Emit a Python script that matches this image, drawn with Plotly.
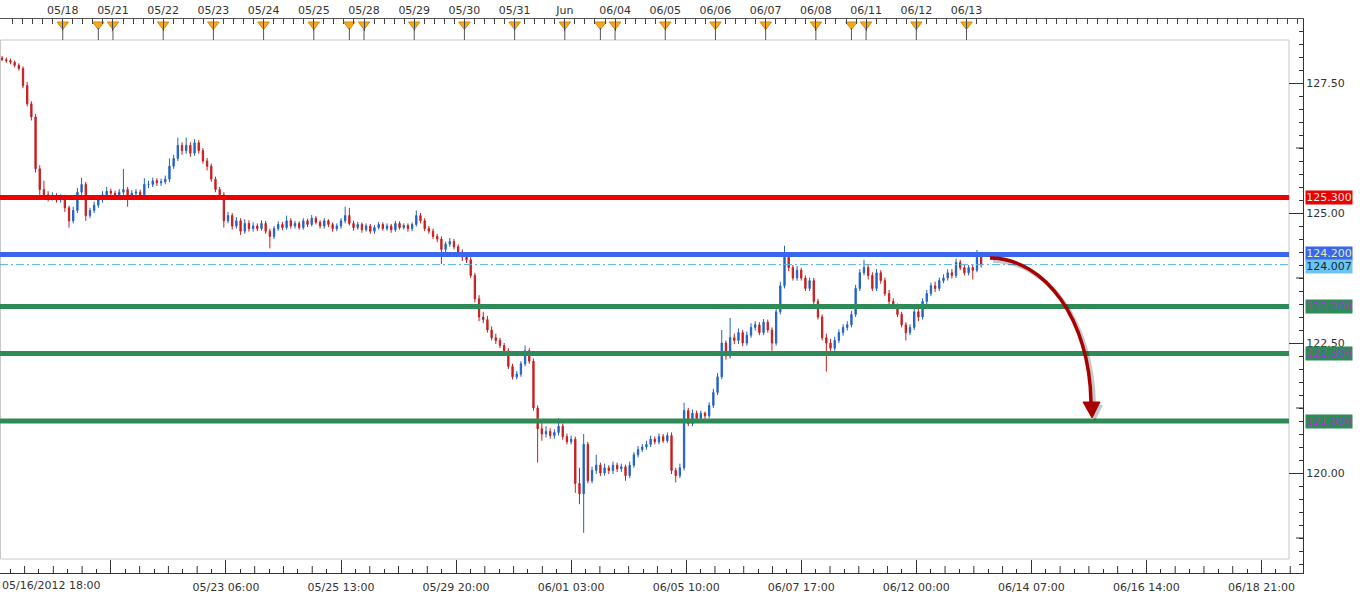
import plotly.graph_objects as go

# ---------------- data (2-hour bars, x = trading hours since 05/16/2012 18:00) ----------------
start_label = "05/16/2012 18:00"
bar_hours = 2

opens = [
    127.98, 127.95, 127.93, 127.90, 127.84, 127.78, 127.45, 127.10, 126.85, 125.85,
    125.45, 125.35, 125.28, 125.33, 125.25, 125.30, 125.10, 124.85, 125.05, 125.40,
    125.55, 124.95, 125.05, 125.15, 125.25, 125.35, 125.42, 125.38, 125.35, 125.40,
    125.45, 125.30, 125.38, 125.40, 125.35, 125.55, 125.55, 125.62, 125.58, 125.60,
    125.65, 125.90, 126.05, 126.30, 126.20, 126.30, 126.15, 126.35, 126.20, 126.00,
    125.90, 125.65, 125.45, 125.35, 124.85, 124.95, 124.75, 124.85, 124.65, 124.80,
    124.70, 124.75, 124.70, 124.80, 124.65, 124.55, 124.70, 124.78, 124.72, 124.85,
    124.75, 124.80, 124.72, 124.85, 124.78, 124.90, 124.82, 124.75, 124.85, 124.78,
    124.70, 124.75, 124.85, 124.95, 124.80, 124.72, 124.78, 124.68, 124.75, 124.65,
    124.72, 124.78, 124.70, 124.75, 124.68, 124.80, 124.72, 124.76, 124.70, 124.78,
    124.95, 124.85, 124.70, 124.65, 124.55, 124.50, 124.30, 124.40, 124.45, 124.35,
    124.25, 124.15, 124.10, 123.80, 123.35, 123.00, 122.95, 122.75, 122.60, 122.55,
    122.45, 122.35, 122.05, 121.85, 121.90, 122.10, 122.35, 122.15, 121.25, 120.85,
    120.75, 120.80, 120.72, 120.78, 120.90, 120.70, 120.60, 120.65, 119.80, 119.60,
    120.55, 119.85, 120.05, 120.15, 120.00, 120.10, 120.05, 120.15, 120.08, 120.12,
    119.95, 120.15, 120.35, 120.45, 120.50, 120.55, 120.65, 120.60, 120.70, 120.62,
    120.72, 120.05, 119.95, 120.10, 121.20, 120.95, 121.15, 121.05, 121.15, 121.10,
    121.30, 121.55, 121.85, 122.50, 122.25, 122.60, 122.55, 122.70, 122.50, 122.65,
    122.80, 122.85, 122.70, 122.90, 122.75, 122.50, 123.10, 123.60, 124.15, 123.95,
    123.75, 123.90, 123.75, 123.55, 123.70, 123.30, 123.00, 122.60, 122.50, 122.40,
    122.55, 122.70, 122.80, 122.85, 123.05, 123.55, 123.85, 123.95, 123.80, 123.55,
    123.85, 123.70, 123.45, 123.30, 123.20, 123.05, 122.85, 122.70, 122.80, 123.10,
    123.00, 123.30, 123.45, 123.60, 123.55, 123.70, 123.75, 123.85, 123.80, 124.05,
    123.95, 123.85, 123.95, 123.90, 124.15,
]
highs = [
    128.02, 127.99, 127.97, 127.93, 127.88, 127.82, 127.52, 127.15, 126.90, 125.92,
    125.62, 125.42, 125.40, 125.38, 125.36, 125.35, 125.14, 125.12, 125.48, 125.68,
    125.60, 125.10, 125.22, 125.30, 125.42, 125.50, 125.47, 125.43, 125.46, 125.85,
    125.50, 125.44, 125.46, 125.45, 125.67, 125.62, 125.68, 125.67, 125.66, 125.72,
    126.05, 126.12, 126.45, 126.36, 126.45, 126.36, 126.42, 126.40, 126.25, 126.06,
    125.95, 125.70, 125.50, 125.40, 125.02, 125.00, 124.92, 124.90, 124.88, 124.86,
    124.82, 124.80, 124.86, 124.85, 124.70, 124.75, 124.84, 124.83, 124.95, 124.90,
    124.85, 124.84, 124.90, 124.89, 124.96, 124.94, 124.86, 124.90, 124.88, 124.82,
    124.80, 124.90, 125.12, 125.10, 124.85, 124.83, 124.82, 124.80, 124.79, 124.77,
    124.83, 124.82, 124.80, 124.79, 124.85, 124.84, 124.80, 124.80, 124.82, 125.05,
    125.00, 124.90, 124.75, 124.70, 124.60, 124.55, 124.45, 124.52, 124.50, 124.40,
    124.30, 124.22, 124.15, 123.85, 123.42, 123.10, 123.02, 122.82, 122.68, 122.60,
    122.50, 122.40, 122.10, 121.96, 122.15, 122.45, 122.40, 122.20, 121.30, 121.00,
    120.90, 120.86, 120.84, 121.05, 120.95, 120.76, 120.72, 120.70, 120.10, 120.75,
    120.60, 120.12, 120.35, 120.20, 120.18, 120.15, 120.22, 120.20, 120.18, 120.16,
    120.22, 120.40, 120.52, 120.56, 120.62, 120.72, 120.70, 120.76, 120.75, 120.78,
    120.78, 120.10, 120.18, 121.35, 121.25, 121.22, 121.20, 121.20, 121.18, 121.36,
    121.62, 121.92, 122.75, 122.55, 122.98, 122.68, 122.78, 122.75, 122.72, 122.88,
    122.92, 122.90, 122.96, 122.95, 122.80, 123.15, 123.68, 124.37, 124.22, 124.00,
    123.98, 123.95, 123.80, 123.76, 123.75, 123.35, 123.05, 122.68, 122.58, 122.62,
    122.76, 122.86, 122.92, 123.12, 123.62, 123.92, 124.10, 124.02, 123.86, 123.92,
    123.90, 123.76, 123.52, 123.36, 123.26, 123.10, 122.90, 122.86, 123.16, 123.18,
    123.36, 123.52, 123.66, 123.68, 123.76, 123.82, 123.92, 123.92, 124.12, 124.10,
    124.00, 124.00, 124.02, 124.29, 124.18,
]
lows = [
    127.92, 127.89, 127.86, 127.80, 127.74, 127.40, 127.05, 126.78, 125.78, 125.35,
    125.28, 125.22, 125.24, 125.20, 125.20, 125.02, 124.72, 124.80, 125.00, 125.35,
    124.85, 124.90, 125.00, 125.10, 125.20, 125.30, 125.32, 125.28, 125.30, 125.35,
    125.12, 125.25, 125.32, 125.28, 125.30, 125.48, 125.50, 125.52, 125.52, 125.55,
    125.60, 125.85, 126.00, 126.12, 126.14, 126.08, 126.10, 126.14, 125.95, 125.82,
    125.60, 125.40, 125.28, 124.72, 124.80, 124.68, 124.70, 124.58, 124.60, 124.64,
    124.64, 124.65, 124.66, 124.60, 124.32, 124.50, 124.66, 124.67, 124.68, 124.70,
    124.70, 124.68, 124.68, 124.73, 124.74, 124.78, 124.70, 124.70, 124.73, 124.64,
    124.65, 124.70, 124.80, 124.76, 124.66, 124.68, 124.62, 124.64, 124.60, 124.60,
    124.68, 124.66, 124.66, 124.62, 124.64, 124.68, 124.68, 124.64, 124.65, 124.74,
    124.80, 124.65, 124.60, 124.50, 124.44, 124.02, 124.25, 124.35, 124.30, 124.18,
    124.08, 124.04, 123.75, 123.28, 122.92, 122.88, 122.70, 122.55, 122.48, 122.40,
    122.30, 122.00, 121.80, 121.80, 121.85, 122.05, 122.10, 121.20, 120.20, 120.62,
    120.68, 120.66, 120.66, 120.72, 120.64, 120.55, 120.55, 119.62, 119.40, 118.85,
    119.80, 119.80, 119.98, 119.94, 119.95, 119.98, 119.98, 120.02, 120.02, 119.85,
    119.90, 120.10, 120.30, 120.40, 120.45, 120.50, 120.55, 120.55, 120.58, 120.58,
    119.98, 119.82, 119.90, 120.05, 120.90, 120.90, 121.00, 121.00, 121.04, 121.05,
    121.25, 121.50, 121.80, 122.18, 122.20, 122.48, 122.48, 122.44, 122.45, 122.60,
    122.74, 122.65, 122.65, 122.70, 122.35, 122.45, 123.05, 123.55, 123.88, 123.70,
    123.70, 123.70, 123.50, 123.50, 123.25, 122.95, 122.55, 121.95, 122.35, 122.35,
    122.50, 122.64, 122.74, 122.80, 123.00, 123.50, 123.80, 123.72, 123.50, 123.50,
    123.64, 123.40, 123.25, 123.15, 123.00, 122.80, 122.55, 122.65, 122.75, 122.92,
    122.95, 123.25, 123.40, 123.48, 123.50, 123.65, 123.70, 123.74, 123.75, 123.90,
    123.80, 123.80, 123.72, 123.86, 123.95,
]
closes = [
    127.95, 127.93, 127.90, 127.84, 127.78, 127.45, 127.10, 126.85, 125.85, 125.45,
    125.35, 125.28, 125.33, 125.25, 125.30, 125.10, 124.85, 125.05, 125.40, 125.55,
    124.95, 125.05, 125.15, 125.25, 125.35, 125.42, 125.38, 125.35, 125.40, 125.45,
    125.30, 125.38, 125.40, 125.35, 125.55, 125.55, 125.62, 125.58, 125.60, 125.65,
    125.90, 126.05, 126.30, 126.20, 126.30, 126.15, 126.35, 126.20, 126.00, 125.90,
    125.65, 125.45, 125.35, 124.85, 124.95, 124.75, 124.85, 124.65, 124.80, 124.70,
    124.75, 124.70, 124.80, 124.65, 124.55, 124.70, 124.78, 124.72, 124.85, 124.75,
    124.80, 124.72, 124.85, 124.78, 124.90, 124.82, 124.75, 124.85, 124.78, 124.70,
    124.75, 124.85, 124.95, 124.80, 124.72, 124.78, 124.68, 124.75, 124.65, 124.72,
    124.78, 124.70, 124.75, 124.68, 124.80, 124.72, 124.76, 124.70, 124.78, 124.95,
    124.85, 124.70, 124.65, 124.55, 124.50, 124.30, 124.40, 124.45, 124.35, 124.25,
    124.15, 124.10, 123.80, 123.35, 123.00, 122.95, 122.75, 122.60, 122.55, 122.45,
    122.35, 122.05, 121.85, 121.90, 122.10, 122.35, 122.15, 121.25, 120.85, 120.75,
    120.80, 120.72, 120.78, 120.90, 120.70, 120.60, 120.65, 119.80, 119.60, 120.55,
    119.85, 120.05, 120.15, 120.00, 120.10, 120.05, 120.15, 120.08, 120.12, 119.95,
    120.15, 120.35, 120.45, 120.50, 120.55, 120.65, 120.60, 120.70, 120.62, 120.72,
    120.05, 119.95, 120.10, 121.20, 120.95, 121.15, 121.05, 121.15, 121.10, 121.30,
    121.55, 121.85, 122.50, 122.25, 122.60, 122.55, 122.70, 122.50, 122.65, 122.80,
    122.85, 122.70, 122.90, 122.75, 122.50, 123.10, 123.60, 124.15, 123.95, 123.75,
    123.90, 123.75, 123.55, 123.70, 123.30, 123.00, 122.60, 122.50, 122.40, 122.55,
    122.70, 122.80, 122.85, 123.05, 123.55, 123.85, 123.95, 123.80, 123.55, 123.85,
    123.70, 123.45, 123.30, 123.20, 123.05, 122.85, 122.70, 122.80, 123.10, 123.00,
    123.30, 123.45, 123.60, 123.55, 123.70, 123.75, 123.85, 123.80, 124.05, 123.95,
    123.85, 123.95, 123.90, 124.15, 124.01,
]

# top date scale (trading hours since start)
day_labels = ["05/18", "05/21", "05/22", "05/23", "05/24", "05/25", "05/28", "05/29",
              "05/30", "05/31", "Jun", "06/04", "06/05", "06/06", "06/07", "06/08",
              "06/11", "06/12", "06/13"]
day_hours = [30, 54, 78, 102, 126, 150, 174, 198, 222, 246, 270, 294, 318, 342, 366,
             390, 414, 438, 462]
future_day_hours = [486, 510, 534, 558, 582, 606]
session_break_hours = [47, 167, 287, 407]

# bottom time scale
bottom_labels = ["", "05/23 06:00", "05/25 13:00", "05/29 20:00", "06/01 03:00",
                 "06/05 10:00", "06/07 17:00", "06/12 00:00", "06/14 07:00",
                 "06/16 14:00", "06/18 21:00"]
bottom_hours = [53, 108, 163, 218, 273, 328, 383, 438, 493, 548, 603]

# price axis
price_ticks = [120.0, 122.5, 125.0, 127.5]

# horizontal levels
level_prices = [125.3, 124.2, 123.2, 122.3, 121.0]
level_colors = ["#ee0000", "#3a66ee", "#2e8b57", "#2e8b57", "#2e8b57"]
level_text_colors = ["#e6e6e6", "#dff0b0", "#9a3fd0", "#9a3fd0", "#9a3fd0"]
level_label_shift = [0.0, 0.02, 0.0, 0.0, 0.0]
last_price = 124.007
last_label_shift = -0.03

# projected path arrow (hours, price)
arrow_start = (473.2, 124.135)
arrow_c1 = (499.5, 124.135)
arrow_c2 = (521.0, 122.94)
arrow_end = (521.5, 121.365)
arrow_head = [(517.7, 121.365), (525.8, 121.365), (522.0, 121.058)]

# ---------------- geometry ----------------
W, H = 1360, 598
PL, PR, PT, PB = 0, 1303, 19, 573          # plot area in pixels
PX_PER_H = 2.092
PX_PER_P = 52.0
P_AT_213 = 125.0
x_range = [0, (PR - PL) / PX_PER_H]
y_range = [P_AT_213 - (PB - 213) / PX_PER_P, P_AT_213 + (213 - PT) / PX_PER_P]


def pxx(px):
    return (px - PL) / (PR - PL)


def pxy(py):
    return (PB - py) / (PB - PT)


FONT = "DejaVu Sans"
TXT = "#333333"
UP = "#2262c6"
DOWN = "#c81e1e"

x_bars = [bar_hours * i + bar_hours / 2 for i in range(len(closes))]

fig = go.Figure()
fig.add_trace(go.Candlestick(
    x=x_bars, open=opens, high=highs, low=lows, close=closes,
    increasing=dict(line=dict(color=UP, width=1), fillcolor=UP),
    decreasing=dict(line=dict(color=DOWN, width=1), fillcolor=DOWN),
    whiskerwidth=0, hoverinfo="skip", showlegend=False,
))

# triangles on the top ruler
tri_x = day_hours + session_break_hours
fig.add_trace(go.Scatter(
    x=tri_x, y=[pxy(24.5)] * len(tri_x), yaxis="y2", mode="markers",
    marker=dict(symbol="triangle-down", size=10, color="#f5a81c",
                line=dict(color="#d38a10", width=1)),
    hoverinfo="skip", showlegend=False, cliponaxis=False,
))

shapes = []
# frame
shapes.append(dict(type="rect", xref="paper", yref="paper",
                   x0=pxx(0.5), x1=pxx(1289), y0=pxy(559), y1=pxy(40),
                   line=dict(color="#c8c8c8", width=1), layer="below"))
# thin lines under the triangles
for h in tri_x:
    shapes.append(dict(type="line", xref="x", yref="paper", x0=h, x1=h,
                       y0=pxy(40), y1=pxy(28), line=dict(color="#555555", width=1)))
# medium ticks on price axis
for p in [118.75, 121.25, 123.75, 126.25]:
    shapes.append(dict(type="line", xref="paper", yref="y", x0=pxx(1296), x1=1,
                       y0=p, y1=p, line=dict(color="#333333", width=1)))
# medium ticks on bottom ruler
for h0 in [-2] + bottom_hours:
    for k in (2, 4, 6):
        hh = h0 + k * 55 / 8
        if 0 < hh < x_range[1]:
            shapes.append(dict(type="line", xref="x", yref="paper", x0=hh, x1=hh,
                               y0=0, y1=7 / (PB - PT), line=dict(color="#333333", width=1)))
# last price dash-dot line
shapes.append(dict(type="line", xref="paper", yref="y", x0=0, x1=pxx(1289),
                   y0=last_price, y1=last_price,
                   line=dict(color="#4fb0e6", width=1, dash="8px,3px,2px,3px")))
# level lines
for p, c in zip(level_prices, level_colors):
    shapes.append(dict(type="line", xref="paper", yref="y", x0=0, x1=pxx(1289),
                       y0=p, y1=p, line=dict(color=c, width=5)))

# arrow (shadow + body + head)
sx, sy = 3 / PX_PER_H, -3 / PX_PER_P


def arrow_path(dx, dy):
    return ("M {},{} C {},{} {},{} {},{}".format(
        arrow_start[0] + dx, arrow_start[1] + dy, arrow_c1[0] + dx, arrow_c1[1] + dy,
        arrow_c2[0] + dx, arrow_c2[1] + dy, arrow_end[0] + dx, arrow_end[1] + dy))


def head_path(dx, dy):
    (a, b), (c, d), (e, f) = arrow_head
    return "M {},{} L {},{} L {},{} Z".format(a + dx, b + dy, c + dx, d + dy, e + dx, f + dy)


shapes.append(dict(type="path", xref="x", yref="y", path=arrow_path(sx, sy),
                   line=dict(color="rgba(0,0,0,0.22)", width=4)))
shapes.append(dict(type="path", xref="x", yref="y", path=head_path(sx, sy),
                   fillcolor="rgba(0,0,0,0.22)", line=dict(width=0)))
shapes.append(dict(type="path", xref="x", yref="y", path=arrow_path(0, 0),
                   line=dict(color="#a80000", width=3.5)))
shapes.append(dict(type="path", xref="x", yref="y", path=head_path(0, 0),
                   fillcolor="#a80000", line=dict(color="#a80000", width=1)))

annotations = []
for p, c, tc, sh in zip(level_prices, level_colors, level_text_colors, level_label_shift):
    annotations.append(dict(xref="paper", yref="y", x=pxx(1305), y=p + sh, xanchor="left",
                            yanchor="middle", text="{:.3f}".format(p), showarrow=False,
                            bgcolor=c, width=46, height=13, borderpad=0,
                            font=dict(family=FONT, size=11, color=tc)))
annotations.append(dict(xref="paper", yref="y", x=pxx(1305), y=last_price + last_label_shift,
                        xanchor="left", yanchor="middle", text="{:.3f}".format(last_price),
                        showarrow=False, bgcolor="#6cc4f4", width=46, height=13,
                        borderpad=0, font=dict(family=FONT, size=11, color="#102a40")))
annotations.append(dict(xref="paper", yref="paper", x=0, y=pxy(586), xanchor="left",
                        yanchor="middle", text=start_label, showarrow=False,
                        font=dict(family=FONT, size=11, color=TXT)))

minor_bottom = [h0 + k * 55 / 8 for h0 in [-2] + bottom_hours for k in (1, 3, 5, 7)]
minor_top = [6 + 4.8 * k for k in range(140)]

fig.update_layout(
    width=W, height=H,
    margin=dict(l=PL, r=W - PR, t=PT, b=H - PB, pad=0),
    paper_bgcolor="white", plot_bgcolor="white",
    showlegend=False, hovermode=False, boxgap=0.55,
    font=dict(family=FONT, size=11, color=TXT),
    xaxis=dict(
        range=x_range, domain=[0, 1], rangeslider=dict(visible=False),
        showgrid=False, zeroline=False, showline=True, linecolor="#333333", linewidth=1,
        ticks="inside", ticklen=13, tickcolor="#333333", tickwidth=1,
        tickvals=bottom_hours, ticktext=bottom_labels, ticklabelstandoff=4,
        tickfont=dict(family=FONT, size=11, color=TXT),
        minor=dict(tickvals=minor_bottom, ticks="inside", ticklen=4, tickcolor="#333333"),
    ),
    xaxis2=dict(
        overlaying="x", side="top", anchor="y", matches="x", range=x_range,
        showgrid=False, zeroline=False, showline=True, linecolor="#555555", linewidth=1,
        ticks="inside", ticklen=12, tickcolor="#444444", tickwidth=1,
        tickvals=day_hours + future_day_hours,
        ticktext=day_labels + [""] * len(future_day_hours),
        tickfont=dict(family=FONT, size=11, color=TXT),
        minor=dict(tickvals=minor_top, ticks="inside", ticklen=5, tickcolor="#444444"),
    ),
    yaxis=dict(
        range=y_range, side="right", anchor="x", showgrid=False, zeroline=False,
        showline=True, linecolor="#333333", linewidth=1,
        ticks="inside", ticklen=14, tickcolor="#333333", tickwidth=1,
        tickvals=price_ticks, ticktext=["{:.2f}".format(v) for v in price_ticks],
        tickfont=dict(family=FONT, size=11, color=TXT),
        minor=dict(dtick=0.25, ticks="inside", ticklen=4, tickcolor="#333333"),
        automargin=False,
    ),
    yaxis2=dict(range=[0, 1], overlaying="y", visible=False, fixedrange=True),
    shapes=shapes, annotations=annotations,
)

# trace on top axis so the top ruler draws
fig.add_trace(go.Scatter(x=[x_range[0]], y=[y_range[0]], xaxis="x2", yaxis="y",
                         mode="markers", marker=dict(opacity=0), hoverinfo="skip",
                         showlegend=False))

fig.write_html("out.html", config={"displayModeBar": False},
               post_script="document.body.style.margin='0';document.body.style.overflow='hidden';")
